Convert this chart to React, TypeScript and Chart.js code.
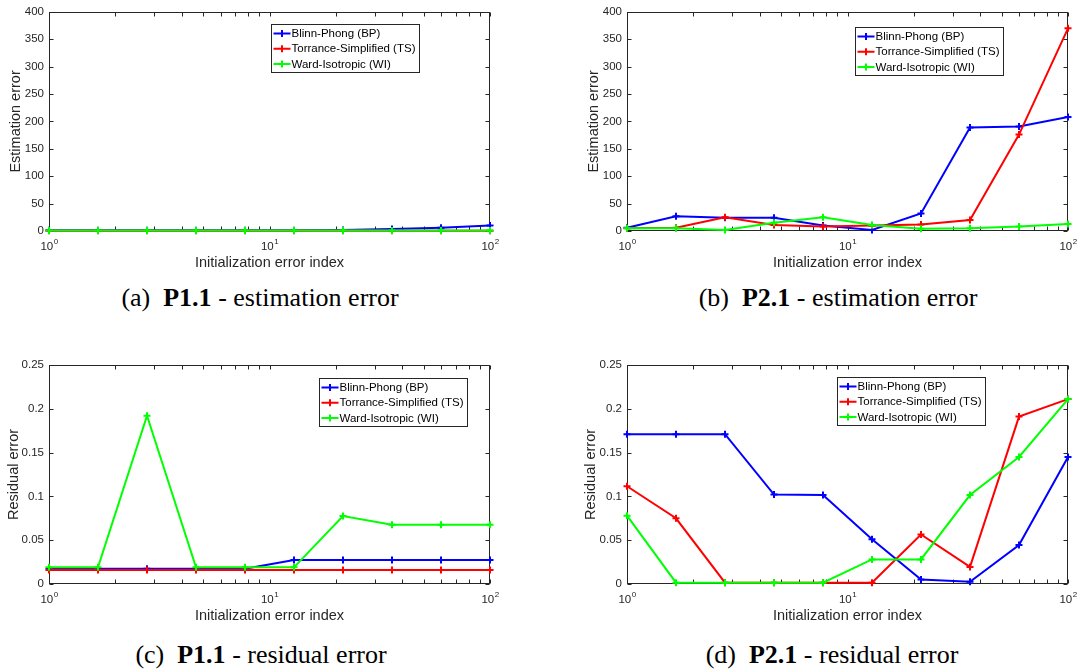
import React, { useEffect, useRef } from "react";
import { Chart, registerables } from "chart.js";

Chart.register(...registerables);

// ---------- data ----------
const xIndex = [1, 1.668, 2.783, 4.642, 7.743, 12.915, 21.544, 35.938, 59.948, 100];
const seriesNames = ["Blinn-Phong (BP)", "Torrance-Simplified (TS)", "Ward-Isotropic (WI)"];
const seriesColors = ["#0000FF", "#FF0000", "#00FF00"];

const p11EstBP = [1.2, 1.2, 1.2, 1.2, 1.3, 1.4, 2, 3.5, 6, 10];
const p11EstTS = [0.5, 0.5, 0.5, 0.5, 0.5, 0.5, 0.5, 0.5, 0.5, 0.5];
const p11EstWI = [1, 1, 1, 1, 1, 1, 1, 1, 1, 1];

const p21EstBP = [6, 27, 24, 24, 10, 2, 32, 189, 191, 208];
const p21EstTS = [5, 6, 25, 11, 8, 10, 12, 20, 176, 370];
const p21EstWI = [5, 5, 2, 15, 25, 11, 4, 5, 8, 13];

const p11ResBP = [0.0175, 0.0175, 0.0175, 0.0175, 0.0175, 0.0275, 0.0275, 0.0275, 0.0275, 0.0275];
const p11ResTS = [0.016, 0.016, 0.016, 0.016, 0.016, 0.016, 0.016, 0.016, 0.016, 0.016];
const p11ResWI = [0.019, 0.019, 0.192, 0.019, 0.019, 0.019, 0.0775, 0.0675, 0.0675, 0.0675];

const p21ResBP = [0.171, 0.171, 0.171, 0.102, 0.1015, 0.051, 0.005, 0.0025, 0.0445, 0.145];
const p21ResTS = [0.1115, 0.075, 0.0015, 0.0015, 0.0015, 0.0015, 0.0565, 0.0195, 0.191, 0.211];
const p21ResWI = [0.078, 0.0015, 0.0015, 0.0015, 0.0015, 0.028, 0.028, 0.1015, 0.145, 0.211];

const estTicks = [0, 50, 100, 150, 200, 250, 300, 350, 400];
const estTickLabels = ["0", "50", "100", "150", "200", "250", "300", "350", "400"];
const resTicks = [0, 0.05, 0.1, 0.15, 0.2, 0.25];
const resTickLabels = ["0", "0.05", "0.1", "0.15", "0.2", "0.25"];
const xMajorTicks = [1, 10, 100];
const xTickBase = "10";
const xTickExponents = ["0", "1", "2"];
const xMinorTicks = [2, 3, 4, 5, 6, 7, 8, 9, 20, 30, 40, 50, 60, 70, 80, 90];

const xTitle = "Initialization error index";
const estTitle = "Estimation error";
const resTitle = "Residual error";

const captionLetters = ["(a)", "(b)", "(c)", "(d)"];
const captionBold = ["P1.1", "P2.1", "P1.1", "P2.1"];
const captionRest = [" - estimation error", " - estimation error", " - residual error", " - residual error"];

// ---------- styling ----------
const SANS = "'Liberation Sans', Arial, Helvetica, sans-serif";
const AXIS = "#262626";

const framePlugin = {
  id: "matlabFrame",
  beforeDatasetsDraw(chart: any, _args: any, opts: any) {
    const { ctx, chartArea: a, scales } = chart;
    const x = scales.x;
    const y = scales.y;
    ctx.save();
    ctx.strokeStyle = AXIS;
    ctx.lineWidth = 1;
    const L = Math.round(a.left) + 0.5;
    const R = Math.round(a.right) - 0.5;
    const T = Math.round(a.top) + 0.5;
    const B = Math.round(a.bottom) - 0.5;
    ctx.strokeRect(L, T, R - L, B - T);
    const tl = 4;
    ctx.beginPath();
    for (const v of opts.yTicks) {
      const py = Math.round(y.getPixelForValue(v)) + 0.5;
      ctx.moveTo(L, py);
      ctx.lineTo(L + tl, py);
      ctx.moveTo(R, py);
      ctx.lineTo(R - tl, py);
    }
    for (const v of [...xMajorTicks, ...xMinorTicks]) {
      const px = Math.round(x.getPixelForValue(v)) + 0.5;
      ctx.moveTo(px, B);
      ctx.lineTo(px, B - tl);
      ctx.moveTo(px, T);
      ctx.lineTo(px, T + tl);
    }
    ctx.stroke();
    // x tick labels: 10^n
    ctx.fillStyle = AXIS;
    ctx.textBaseline = "alphabetic";
    ctx.textAlign = "left";
    const baseFont = "11.5px " + SANS;
    const expFont = "8px " + SANS;
    xMajorTicks.forEach((v, i) => {
      const px = x.getPixelForValue(v);
      ctx.font = baseFont;
      const w1 = ctx.measureText(xTickBase).width;
      ctx.font = expFont;
      const w2 = ctx.measureText(xTickExponents[i]).width;
      const start = px - (w1 + w2) / 2;
      ctx.font = baseFont;
      ctx.fillText(xTickBase, start, a.bottom + 19);
      ctx.font = expFont;
      ctx.fillText(xTickExponents[i], start + w1 + 0.5, a.bottom + 13);
    });
    ctx.restore();
  },
  afterDraw(chart: any, _args: any, opts: any) {
    const { ctx, chartArea: a } = chart;
    ctx.save();
    ctx.font = "11.5px " + SANS;
    const sorted = chart.data.datasets.slice().sort((p: any, q: any) => p.legendIndex - q.legendIndex);
    const names: string[] = sorted.map((d: any) => d.label);
    const colors: string[] = sorted.map((d: any) => d.borderColor);
    let maxW = 0;
    names.forEach((n) => (maxW = Math.max(maxW, ctx.measureText(n).width)));
    const lx = Math.round(a.left + opts.legendX) + 0.5;
    const ly = Math.round(a.top + opts.legendY) + 0.5;
    const w = Math.round(20 + maxW + 4);
    const h = 48;
    ctx.fillStyle = "#ffffff";
    ctx.fillRect(lx, ly, w, h);
    ctx.strokeStyle = AXIS;
    ctx.lineWidth = 1;
    ctx.strokeRect(lx, ly, w, h);
    names.forEach((n, i) => {
      const cy = ly + 9 + i * 15.3;
      ctx.strokeStyle = colors[i];
      ctx.lineWidth = 2;
      ctx.beginPath();
      ctx.moveTo(lx + 2, cy);
      ctx.lineTo(lx + 19, cy);
      ctx.moveTo(lx + 10.5, cy - 3.5);
      ctx.lineTo(lx + 10.5, cy + 3.5);
      ctx.stroke();
      ctx.fillStyle = "#000000";
      ctx.textBaseline = "middle";
      ctx.textAlign = "left";
      ctx.fillText(n, lx + 20, cy + 0.5);
    });
    ctx.restore();
  },
};

type PanelCfg = {
  left: number;
  top: number;
  width: number;
  height: number;
  padL: number;
  padR: number;
  yW: number;
  series: number[][];
  yMax: number;
  yTicks: number[];
  yLabels: string[];
  yTitle: string;
  legendX: number;
  legendY: number;
};

const panels: PanelCfg[] = [
  { left: 0, top: 0, width: 540, height: 272, padL: 7, padR: 50, yW: 42, series: [p11EstBP, p11EstTS, p11EstWI], yMax: 400, yTicks: estTicks, yLabels: estTickLabels, yTitle: estTitle, legendX: 222, legendY: 12 },
  { left: 540, top: 0, width: 539, height: 272, padL: 45, padR: 11, yW: 42, series: [p21EstBP, p21EstTS, p21EstWI], yMax: 400, yTicks: estTicks, yLabels: estTickLabels, yTitle: estTitle, legendX: 228, legendY: 15 },
  { left: 0, top: 353, width: 540, height: 272, padL: 5, padR: 50, yW: 44, series: [p11ResBP, p11ResTS, p11ResWI], yMax: 0.25, yTicks: resTicks, yLabels: resTickLabels, yTitle: resTitle, legendX: 270, legendY: 13 },
  { left: 540, top: 353, width: 539, height: 272, padL: 42, padR: 11, yW: 45, series: [p21ResBP, p21ResTS, p21ResWI], yMax: 0.25, yTicks: resTicks, yLabels: resTickLabels, yTitle: resTitle, legendX: 210, legendY: 12 },
];

function Panel({ cfg }: { cfg: PanelCfg }) {
  const ref = useRef<HTMLCanvasElement>(null);
  useEffect(() => {
    if (!ref.current) return;
    const datasets = cfg.series.map((vals, si) => ({
      label: seriesNames[si],
      legendIndex: si,
      order: 2 - si,
      data: xIndex.map((xv, i) => ({ x: xv, y: vals[i] })),
      borderColor: seriesColors[si],
      backgroundColor: seriesColors[si],
      borderWidth: 2,
      pointStyle: "cross",
      pointRadius: 3.5,
      pointBorderWidth: 2,
      pointBorderColor: seriesColors[si],
      pointHoverRadius: 3.5,
      tension: 0,
      clip: false,
    }));
    const chart = new Chart(ref.current, {
      type: "line",
      data: { datasets: datasets as any },
      plugins: [framePlugin as any],
      options: {
        animation: false,
        responsive: false,
        maintainAspectRatio: false,
        devicePixelRatio: 1,
        events: [],
        layout: { padding: { left: cfg.padL, right: cfg.padR, top: 10, bottom: 0 } },
        plugins: {
          legend: { display: false },
          tooltip: { enabled: false },
          matlabFrame: { yTicks: cfg.yTicks, legendX: cfg.legendX, legendY: cfg.legendY },
        } as any,
        scales: {
          x: {
            type: "logarithmic",
            min: 1,
            max: 100,
            position: "bottom",
            grid: { display: false, drawTicks: false },
            border: { display: false },
            ticks: { display: false },
            title: {
              display: true,
              text: xTitle,
              color: AXIS,
              font: { family: SANS, size: 14.5 },
              padding: { top: 0, bottom: 0 },
            },
            afterFit: (s: any) => {
              s.height = 41;
            },
          },
          y: {
            type: "linear",
            min: 0,
            max: cfg.yMax,
            grid: { display: false, drawTicks: false },
            border: { display: false },
            afterBuildTicks: (s: any) => {
              s.ticks = cfg.yTicks.map((v) => ({ value: v }));
            },
            ticks: {
              color: AXIS,
              font: { family: SANS, size: 11.5 },
              padding: 5,
              callback: (_v: any, i: number) => cfg.yLabels[i],
            },
            title: {
              display: true,
              text: cfg.yTitle,
              color: AXIS,
              font: { family: SANS, size: 14.5 },
              padding: { top: 0, bottom: 0 },
            },
            afterFit: (s: any) => {
              s.width = cfg.yW;
            },
          },
        } as any,
      },
    });
    return () => chart.destroy();
  }, [cfg]);
  return (
    <canvas
      ref={ref}
      width={cfg.width}
      height={cfg.height}
      style={{ position: "absolute", left: cfg.left, top: cfg.top, width: cfg.width, height: cfg.height }}
    />
  );
}

const captionPos = [
  { cx: 260, cy: 298 },
  { cx: 838, cy: 298 },
  { cx: 261, cy: 655 },
  { cx: 832, cy: 655 },
];

export default function App() {
  return (
    <div style={{ position: "absolute", left: 0, top: 0, width: 1079, height: 670, background: "#fff", overflow: "hidden" }}>
      {panels.map((p, i) => (
        <Panel key={i} cfg={p} />
      ))}
      {captionPos.map((c, i) => (
        <div
          key={"c" + i}
          style={{
            position: "absolute",
            left: c.cx - 200,
            top: c.cy - 16,
            width: 400,
            height: 32,
            lineHeight: "32px",
            textAlign: "center",
            fontFamily: "'Liberation Serif', 'Times New Roman', serif",
            fontSize: 26,
            color: "#000",
            whiteSpace: "pre",
          }}
        >
          {captionLetters[i]}
          {"  "}
          <b>{captionBold[i]}</b>
          {captionRest[i]}
        </div>
      ))}
    </div>
  );
}
